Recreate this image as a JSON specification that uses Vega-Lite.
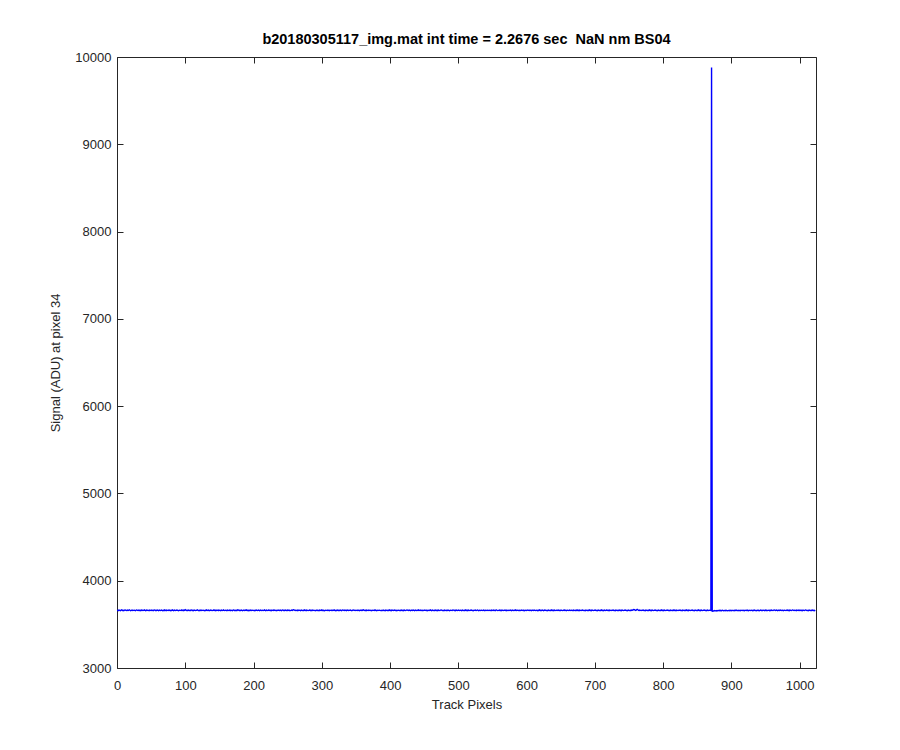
{
"$schema": "https://vega.github.io/schema/vega-lite/v6.json",
"width": 699, "height": 611,
"autosize": {"type": "none"},
"padding": {"left": 117, "top": 57, "right": 84, "bottom": 82},
"background": "white",
"title": {"text": "b20180305117_img.mat int time = 2.2676 sec\u00a0\u00a0NaN nm BS04", "font": "Liberation Sans", "fontSize": 14.5, "fontWeight": "bold", "color": "#000000", "offset": 4, "anchor": "middle"},
"config": {"view": {"stroke": null}, "axis": {"grid": false, "domainColor": "#262626", "tickColor": "#262626", "labelColor": "#262626", "titleColor": "#262626", "labelFont": "Liberation Sans", "titleFont": "Liberation Sans", "labelFontSize": 13, "titleFontSize": 13, "titleFontWeight": "normal", "tickSize": -6, "domainWidth": 1, "tickWidth": 1}},
"data": {"values": [
{"x":0,"y":3655},{"x":1,"y":3662},{"x":2,"y":3658},{"x":3,"y":3664},{"x":4,"y":3660},{"x":5,"y":3657},{"x":6,"y":3663},{"x":7,"y":3666},{"x":8,"y":3659},{"x":9,"y":3661},{"x":10,"y":3656},{"x":11,"y":3662},{"x":12,"y":3665},{"x":13,"y":3660},{"x":14,"y":3658},{"x":15,"y":3663},{"x":16,"y":3659},{"x":17,"y":3661},{"x":18,"y":3667},{"x":19,"y":3662},{"x":20,"y":3657},{"x":21,"y":3660},{"x":22,"y":3664},{"x":23,"y":3658},{"x":24,"y":3661},{"x":25,"y":3663},{"x":26,"y":3659},{"x":27,"y":3656},{"x":28,"y":3662},{"x":29,"y":3665},{"x":30,"y":3660},{"x":31,"y":3658},
{"x":32,"y":3663},{"x":33,"y":3659},{"x":34,"y":3661},{"x":35,"y":3657},{"x":36,"y":3664},{"x":37,"y":3662},{"x":38,"y":3658},{"x":39,"y":3660},{"x":40,"y":3666},{"x":41,"y":3661},{"x":42,"y":3657},{"x":43,"y":3663},{"x":44,"y":3659},{"x":45,"y":3662},{"x":46,"y":3660},{"x":47,"y":3656},{"x":48,"y":3664},{"x":49,"y":3661},{"x":50,"y":3658},{"x":51,"y":3663},{"x":52,"y":3660},{"x":53,"y":3657},{"x":54,"y":3662},{"x":55,"y":3665},{"x":56,"y":3659},{"x":57,"y":3661},{"x":58,"y":3658},{"x":59,"y":3664},{"x":60,"y":3660},{"x":61,"y":3657},{"x":62,"y":3663},{"x":63,"y":3661},
{"x":64,"y":3659},{"x":65,"y":3664},{"x":66,"y":3660},{"x":67,"y":3656},{"x":68,"y":3662},{"x":69,"y":3658},{"x":70,"y":3665},{"x":71,"y":3661},{"x":72,"y":3657},{"x":73,"y":3663},{"x":74,"y":3660},{"x":75,"y":3658},{"x":76,"y":3664},{"x":77,"y":3662},{"x":78,"y":3656},{"x":79,"y":3661},{"x":80,"y":3659},{"x":81,"y":3666},{"x":82,"y":3660},{"x":83,"y":3657},{"x":84,"y":3663},{"x":85,"y":3661},{"x":86,"y":3658},{"x":87,"y":3662},{"x":88,"y":3664},{"x":89,"y":3659},{"x":90,"y":3656},{"x":91,"y":3661},{"x":92,"y":3663},{"x":93,"y":3660},{"x":94,"y":3658},{"x":95,"y":3665},
{"x":96,"y":3661},{"x":97,"y":3657},{"x":98,"y":3663},{"x":99,"y":3660},{"x":100,"y":3668},{"x":101,"y":3664},{"x":102,"y":3659},{"x":103,"y":3661},{"x":104,"y":3658},{"x":105,"y":3663},{"x":106,"y":3660},{"x":107,"y":3656},{"x":108,"y":3662},{"x":109,"y":3665},{"x":110,"y":3659},{"x":111,"y":3661},{"x":112,"y":3657},{"x":113,"y":3664},{"x":114,"y":3660},{"x":115,"y":3658},{"x":116,"y":3663},{"x":117,"y":3661},{"x":118,"y":3666},{"x":119,"y":3659},{"x":120,"y":3657},{"x":121,"y":3662},{"x":122,"y":3660},{"x":123,"y":3664},{"x":124,"y":3658},{"x":125,"y":3661},{"x":126,"y":3663},{"x":127,"y":3659},
{"x":128,"y":3656},{"x":129,"y":3662},{"x":130,"y":3660},{"x":131,"y":3665},{"x":132,"y":3658},{"x":133,"y":3661},{"x":134,"y":3663},{"x":135,"y":3657},{"x":136,"y":3660},{"x":137,"y":3664},{"x":138,"y":3659},{"x":139,"y":3662},{"x":140,"y":3658},{"x":141,"y":3661},{"x":142,"y":3666},{"x":143,"y":3660},{"x":144,"y":3657},{"x":145,"y":3663},{"x":146,"y":3659},{"x":147,"y":3661},{"x":148,"y":3664},{"x":149,"y":3658},{"x":150,"y":3662},{"x":151,"y":3660},{"x":152,"y":3656},{"x":153,"y":3663},{"x":154,"y":3661},{"x":155,"y":3659},{"x":156,"y":3665},{"x":157,"y":3660},{"x":158,"y":3658},{"x":159,"y":3662},
{"x":160,"y":3660},{"x":161,"y":3657},{"x":162,"y":3663},{"x":163,"y":3661},{"x":164,"y":3659},{"x":165,"y":3664},{"x":166,"y":3658},{"x":167,"y":3662},{"x":168,"y":3660},{"x":169,"y":3656},{"x":170,"y":3663},{"x":171,"y":3665},{"x":172,"y":3659},{"x":173,"y":3661},{"x":174,"y":3658},{"x":175,"y":3662},{"x":176,"y":3660},{"x":177,"y":3667},{"x":178,"y":3663},{"x":179,"y":3658},{"x":180,"y":3661},{"x":181,"y":3659},{"x":182,"y":3664},{"x":183,"y":3660},{"x":184,"y":3657},{"x":185,"y":3662},{"x":186,"y":3661},{"x":187,"y":3658},{"x":188,"y":3663},{"x":189,"y":3660},{"x":190,"y":3665},{"x":191,"y":3659},
{"x":192,"y":3661},{"x":193,"y":3657},{"x":194,"y":3662},{"x":195,"y":3660},{"x":196,"y":3664},{"x":197,"y":3658},{"x":198,"y":3661},{"x":199,"y":3663},{"x":200,"y":3659},{"x":201,"y":3656},{"x":202,"y":3662},{"x":203,"y":3660},{"x":204,"y":3665},{"x":205,"y":3661},{"x":206,"y":3658},{"x":207,"y":3663},{"x":208,"y":3660},{"x":209,"y":3657},{"x":210,"y":3664},{"x":211,"y":3661},{"x":212,"y":3659},{"x":213,"y":3662},{"x":214,"y":3658},{"x":215,"y":3660},{"x":216,"y":3666},{"x":217,"y":3661},{"x":218,"y":3657},{"x":219,"y":3663},{"x":220,"y":3660},{"x":221,"y":3658},{"x":222,"y":3664},{"x":223,"y":3662},
{"x":224,"y":3659},{"x":225,"y":3661},{"x":226,"y":3656},{"x":227,"y":3663},{"x":228,"y":3660},{"x":229,"y":3658},{"x":230,"y":3665},{"x":231,"y":3661},{"x":232,"y":3659},{"x":233,"y":3662},{"x":234,"y":3657},{"x":235,"y":3660},{"x":236,"y":3664},{"x":237,"y":3661},{"x":238,"y":3658},{"x":239,"y":3663},{"x":240,"y":3660},{"x":241,"y":3656},{"x":242,"y":3662},{"x":243,"y":3665},{"x":244,"y":3659},{"x":245,"y":3661},{"x":246,"y":3658},{"x":247,"y":3663},{"x":248,"y":3660},{"x":249,"y":3657},{"x":250,"y":3664},{"x":251,"y":3662},{"x":252,"y":3659},{"x":253,"y":3661},{"x":254,"y":3658},{"x":255,"y":3660},
{"x":256,"y":3663},{"x":257,"y":3659},{"x":258,"y":3665},{"x":259,"y":3668},{"x":260,"y":3662},{"x":261,"y":3658},{"x":262,"y":3661},{"x":263,"y":3660},{"x":264,"y":3657},{"x":265,"y":3663},{"x":266,"y":3659},{"x":267,"y":3662},{"x":268,"y":3660},{"x":269,"y":3656},{"x":270,"y":3664},{"x":271,"y":3661},{"x":272,"y":3658},{"x":273,"y":3662},{"x":274,"y":3660},{"x":275,"y":3665},{"x":276,"y":3659},{"x":277,"y":3657},{"x":278,"y":3663},{"x":279,"y":3661},{"x":280,"y":3658},{"x":281,"y":3660},{"x":282,"y":3664},{"x":283,"y":3662},{"x":284,"y":3657},{"x":285,"y":3661},{"x":286,"y":3659},{"x":287,"y":3663},
{"x":288,"y":3660},{"x":289,"y":3658},{"x":290,"y":3662},{"x":291,"y":3656},{"x":292,"y":3661},{"x":293,"y":3664},{"x":294,"y":3659},{"x":295,"y":3660},{"x":296,"y":3657},{"x":297,"y":3663},{"x":298,"y":3661},{"x":299,"y":3658},{"x":300,"y":3665},{"x":301,"y":3660},{"x":302,"y":3662},{"x":303,"y":3659},{"x":304,"y":3656},{"x":305,"y":3661},{"x":306,"y":3663},{"x":307,"y":3660},{"x":308,"y":3658},{"x":309,"y":3664},{"x":310,"y":3661},{"x":311,"y":3657},{"x":312,"y":3662},{"x":313,"y":3660},{"x":314,"y":3659},{"x":315,"y":3663},{"x":316,"y":3658},{"x":317,"y":3661},{"x":318,"y":3666},{"x":319,"y":3660},
{"x":320,"y":3657},{"x":321,"y":3662},{"x":322,"y":3660},{"x":323,"y":3664},{"x":324,"y":3659},{"x":325,"y":3661},{"x":326,"y":3658},{"x":327,"y":3663},{"x":328,"y":3660},{"x":329,"y":3656},{"x":330,"y":3662},{"x":331,"y":3665},{"x":332,"y":3661},{"x":333,"y":3659},{"x":334,"y":3663},{"x":335,"y":3660},{"x":336,"y":3657},{"x":337,"y":3664},{"x":338,"y":3662},{"x":339,"y":3658},{"x":340,"y":3661},{"x":341,"y":3660},{"x":342,"y":3663},{"x":343,"y":3659},{"x":344,"y":3656},{"x":345,"y":3662},{"x":346,"y":3661},{"x":347,"y":3665},{"x":348,"y":3660},{"x":349,"y":3658},{"x":350,"y":3663},{"x":351,"y":3661},
{"x":352,"y":3659},{"x":353,"y":3664},{"x":354,"y":3660},{"x":355,"y":3657},{"x":356,"y":3662},{"x":357,"y":3661},{"x":358,"y":3658},{"x":359,"y":3663},{"x":360,"y":3660},{"x":361,"y":3666},{"x":362,"y":3662},{"x":363,"y":3659},{"x":364,"y":3661},{"x":365,"y":3657},{"x":366,"y":3663},{"x":367,"y":3660},{"x":368,"y":3658},{"x":369,"y":3664},{"x":370,"y":3661},{"x":371,"y":3659},{"x":372,"y":3662},{"x":373,"y":3656},{"x":374,"y":3660},{"x":375,"y":3663},{"x":376,"y":3661},{"x":377,"y":3658},{"x":378,"y":3665},{"x":379,"y":3660},{"x":380,"y":3657},{"x":381,"y":3662},{"x":382,"y":3659},{"x":383,"y":3661},
{"x":384,"y":3663},{"x":385,"y":3660},{"x":386,"y":3658},{"x":387,"y":3662},{"x":388,"y":3656},{"x":389,"y":3661},{"x":390,"y":3664},{"x":391,"y":3659},{"x":392,"y":3660},{"x":393,"y":3657},{"x":394,"y":3663},{"x":395,"y":3661},{"x":396,"y":3658},{"x":397,"y":3662},{"x":398,"y":3660},{"x":399,"y":3665},{"x":400,"y":3659},{"x":401,"y":3661},{"x":402,"y":3657},{"x":403,"y":3663},{"x":404,"y":3660},{"x":405,"y":3658},{"x":406,"y":3664},{"x":407,"y":3662},{"x":408,"y":3659},{"x":409,"y":3661},{"x":410,"y":3656},{"x":411,"y":3660},{"x":412,"y":3663},{"x":413,"y":3661},{"x":414,"y":3658},{"x":415,"y":3662},
{"x":416,"y":3660},{"x":417,"y":3664},{"x":418,"y":3659},{"x":419,"y":3661},{"x":420,"y":3657},{"x":421,"y":3663},{"x":422,"y":3660},{"x":423,"y":3658},{"x":424,"y":3662},{"x":425,"y":3665},{"x":426,"y":3661},{"x":427,"y":3659},{"x":428,"y":3663},{"x":429,"y":3660},{"x":430,"y":3656},{"x":431,"y":3662},{"x":432,"y":3661},{"x":433,"y":3658},{"x":434,"y":3664},{"x":435,"y":3660},{"x":436,"y":3657},{"x":437,"y":3663},{"x":438,"y":3661},{"x":439,"y":3659},{"x":440,"y":3662},{"x":441,"y":3660},{"x":442,"y":3666},{"x":443,"y":3661},{"x":444,"y":3658},{"x":445,"y":3663},{"x":446,"y":3660},{"x":447,"y":3657},
{"x":448,"y":3662},{"x":449,"y":3659},{"x":450,"y":3661},{"x":451,"y":3664},{"x":452,"y":3660},{"x":453,"y":3658},{"x":454,"y":3663},{"x":455,"y":3656},{"x":456,"y":3661},{"x":457,"y":3662},{"x":458,"y":3659},{"x":459,"y":3665},{"x":460,"y":3660},{"x":461,"y":3657},{"x":462,"y":3663},{"x":463,"y":3661},{"x":464,"y":3658},{"x":465,"y":3662},{"x":466,"y":3660},{"x":467,"y":3664},{"x":468,"y":3659},{"x":469,"y":3661},{"x":470,"y":3657},{"x":471,"y":3663},{"x":472,"y":3660},{"x":473,"y":3658},{"x":474,"y":3662},{"x":475,"y":3665},{"x":476,"y":3661},{"x":477,"y":3659},{"x":478,"y":3660},{"x":479,"y":3657},
{"x":480,"y":3663},{"x":481,"y":3661},{"x":482,"y":3658},{"x":483,"y":3662},{"x":484,"y":3660},{"x":485,"y":3664},{"x":486,"y":3659},{"x":487,"y":3656},{"x":488,"y":3661},{"x":489,"y":3663},{"x":490,"y":3660},{"x":491,"y":3658},{"x":492,"y":3665},{"x":493,"y":3662},{"x":494,"y":3659},{"x":495,"y":3661},{"x":496,"y":3657},{"x":497,"y":3663},{"x":498,"y":3660},{"x":499,"y":3658},{"x":500,"y":3664},{"x":501,"y":3661},{"x":502,"y":3659},{"x":503,"y":3662},{"x":504,"y":3660},{"x":505,"y":3656},{"x":506,"y":3663},{"x":507,"y":3661},{"x":508,"y":3658},{"x":509,"y":3662},{"x":510,"y":3660},{"x":511,"y":3665},
{"x":512,"y":3659},{"x":513,"y":3661},{"x":514,"y":3657},{"x":515,"y":3663},{"x":516,"y":3660},{"x":517,"y":3658},{"x":518,"y":3662},{"x":519,"y":3664},{"x":520,"y":3661},{"x":521,"y":3659},{"x":522,"y":3656},{"x":523,"y":3662},{"x":524,"y":3660},{"x":525,"y":3663},{"x":526,"y":3658},{"x":527,"y":3661},{"x":528,"y":3665},{"x":529,"y":3660},{"x":530,"y":3657},{"x":531,"y":3662},{"x":532,"y":3659},{"x":533,"y":3661},{"x":534,"y":3663},{"x":535,"y":3660},{"x":536,"y":3658},{"x":537,"y":3664},{"x":538,"y":3661},{"x":539,"y":3657},{"x":540,"y":3662},{"x":541,"y":3660},{"x":542,"y":3659},{"x":543,"y":3663},
{"x":544,"y":3661},{"x":545,"y":3658},{"x":546,"y":3662},{"x":547,"y":3660},{"x":548,"y":3656},{"x":549,"y":3664},{"x":550,"y":3661},{"x":551,"y":3659},{"x":552,"y":3663},{"x":553,"y":3660},{"x":554,"y":3657},{"x":555,"y":3662},{"x":556,"y":3665},{"x":557,"y":3661},{"x":558,"y":3658},{"x":559,"y":3660},{"x":560,"y":3663},{"x":561,"y":3659},{"x":562,"y":3661},{"x":563,"y":3657},{"x":564,"y":3664},{"x":565,"y":3660},{"x":566,"y":3658},{"x":567,"y":3662},{"x":568,"y":3661},{"x":569,"y":3659},{"x":570,"y":3663},{"x":571,"y":3656},{"x":572,"y":3660},{"x":573,"y":3662},{"x":574,"y":3658},{"x":575,"y":3661},
{"x":576,"y":3664},{"x":577,"y":3660},{"x":578,"y":3657},{"x":579,"y":3663},{"x":580,"y":3661},{"x":581,"y":3659},{"x":582,"y":3662},{"x":583,"y":3660},{"x":584,"y":3665},{"x":585,"y":3658},{"x":586,"y":3661},{"x":587,"y":3663},{"x":588,"y":3660},{"x":589,"y":3657},{"x":590,"y":3662},{"x":591,"y":3659},{"x":592,"y":3661},{"x":593,"y":3664},{"x":594,"y":3660},{"x":595,"y":3658},{"x":596,"y":3663},{"x":597,"y":3656},{"x":598,"y":3661},{"x":599,"y":3662},{"x":600,"y":3659},{"x":601,"y":3660},{"x":602,"y":3665},{"x":603,"y":3661},{"x":604,"y":3658},{"x":605,"y":3663},{"x":606,"y":3660},{"x":607,"y":3657},
{"x":608,"y":3662},{"x":609,"y":3661},{"x":610,"y":3659},{"x":611,"y":3664},{"x":612,"y":3660},{"x":613,"y":3658},{"x":614,"y":3663},{"x":615,"y":3661},{"x":616,"y":3657},{"x":617,"y":3662},{"x":618,"y":3660},{"x":619,"y":3665},{"x":620,"y":3659},{"x":621,"y":3661},{"x":622,"y":3658},{"x":623,"y":3663},{"x":624,"y":3660},{"x":625,"y":3656},{"x":626,"y":3662},{"x":627,"y":3664},{"x":628,"y":3661},{"x":629,"y":3659},{"x":630,"y":3660},{"x":631,"y":3657},{"x":632,"y":3663},{"x":633,"y":3661},{"x":634,"y":3658},{"x":635,"y":3662},{"x":636,"y":3660},{"x":637,"y":3665},{"x":638,"y":3659},{"x":639,"y":3661},
{"x":640,"y":3657},{"x":641,"y":3663},{"x":642,"y":3660},{"x":643,"y":3658},{"x":644,"y":3662},{"x":645,"y":3661},{"x":646,"y":3659},{"x":647,"y":3664},{"x":648,"y":3660},{"x":649,"y":3656},{"x":650,"y":3662},{"x":651,"y":3663},{"x":652,"y":3661},{"x":653,"y":3658},{"x":654,"y":3660},{"x":655,"y":3665},{"x":656,"y":3659},{"x":657,"y":3662},{"x":658,"y":3657},{"x":659,"y":3661},{"x":660,"y":3663},{"x":661,"y":3660},{"x":662,"y":3658},{"x":663,"y":3664},{"x":664,"y":3661},{"x":665,"y":3659},{"x":666,"y":3662},{"x":667,"y":3660},{"x":668,"y":3657},{"x":669,"y":3663},{"x":670,"y":3661},{"x":671,"y":3658},
{"x":672,"y":3662},{"x":673,"y":3660},{"x":674,"y":3665},{"x":675,"y":3659},{"x":676,"y":3661},{"x":677,"y":3657},{"x":678,"y":3663},{"x":679,"y":3660},{"x":680,"y":3658},{"x":681,"y":3662},{"x":682,"y":3664},{"x":683,"y":3661},{"x":684,"y":3659},{"x":685,"y":3660},{"x":686,"y":3656},{"x":687,"y":3663},{"x":688,"y":3661},{"x":689,"y":3658},{"x":690,"y":3662},{"x":691,"y":3660},{"x":692,"y":3665},{"x":693,"y":3659},{"x":694,"y":3661},{"x":695,"y":3657},{"x":696,"y":3663},{"x":697,"y":3660},{"x":698,"y":3658},{"x":699,"y":3662},{"x":700,"y":3661},{"x":701,"y":3664},{"x":702,"y":3659},{"x":703,"y":3660},
{"x":704,"y":3657},{"x":705,"y":3663},{"x":706,"y":3661},{"x":707,"y":3658},{"x":708,"y":3662},{"x":709,"y":3660},{"x":710,"y":3665},{"x":711,"y":3659},{"x":712,"y":3661},{"x":713,"y":3656},{"x":714,"y":3663},{"x":715,"y":3660},{"x":716,"y":3658},{"x":717,"y":3664},{"x":718,"y":3662},{"x":719,"y":3659},{"x":720,"y":3661},{"x":721,"y":3657},{"x":722,"y":3663},{"x":723,"y":3660},{"x":724,"y":3658},{"x":725,"y":3662},{"x":726,"y":3661},{"x":727,"y":3665},{"x":728,"y":3659},{"x":729,"y":3660},{"x":730,"y":3657},{"x":731,"y":3663},{"x":732,"y":3661},{"x":733,"y":3658},{"x":734,"y":3662},{"x":735,"y":3660},
{"x":736,"y":3664},{"x":737,"y":3659},{"x":738,"y":3661},{"x":739,"y":3657},{"x":740,"y":3663},{"x":741,"y":3660},{"x":742,"y":3658},{"x":743,"y":3662},{"x":744,"y":3661},{"x":745,"y":3665},{"x":746,"y":3659},{"x":747,"y":3660},{"x":748,"y":3656},{"x":749,"y":3663},{"x":750,"y":3661},{"x":751,"y":3658},{"x":752,"y":3662},{"x":753,"y":3660},{"x":754,"y":3664},{"x":755,"y":3661},{"x":756,"y":3666},{"x":757,"y":3670},{"x":758,"y":3668},{"x":759,"y":3663},{"x":760,"y":3660},{"x":761,"y":3665},{"x":762,"y":3672},{"x":763,"y":3667},{"x":764,"y":3661},{"x":765,"y":3659},{"x":766,"y":3663},{"x":767,"y":3660},
{"x":768,"y":3658},{"x":769,"y":3662},{"x":770,"y":3661},{"x":771,"y":3664},{"x":772,"y":3659},{"x":773,"y":3660},{"x":774,"y":3657},{"x":775,"y":3663},{"x":776,"y":3661},{"x":777,"y":3658},{"x":778,"y":3662},{"x":779,"y":3660},{"x":780,"y":3665},{"x":781,"y":3659},{"x":782,"y":3661},{"x":783,"y":3657},{"x":784,"y":3663},{"x":785,"y":3660},{"x":786,"y":3658},{"x":787,"y":3662},{"x":788,"y":3661},{"x":789,"y":3664},{"x":790,"y":3659},{"x":791,"y":3660},{"x":792,"y":3656},{"x":793,"y":3663},{"x":794,"y":3661},{"x":795,"y":3658},{"x":796,"y":3662},{"x":797,"y":3660},{"x":798,"y":3665},{"x":799,"y":3659},
{"x":800,"y":3661},{"x":801,"y":3657},{"x":802,"y":3663},{"x":803,"y":3660},{"x":804,"y":3658},{"x":805,"y":3662},{"x":806,"y":3661},{"x":807,"y":3664},{"x":808,"y":3659},{"x":809,"y":3660},{"x":810,"y":3657},{"x":811,"y":3663},{"x":812,"y":3661},{"x":813,"y":3658},{"x":814,"y":3662},{"x":815,"y":3660},{"x":816,"y":3665},{"x":817,"y":3659},{"x":818,"y":3661},{"x":819,"y":3656},{"x":820,"y":3663},{"x":821,"y":3660},{"x":822,"y":3658},{"x":823,"y":3662},{"x":824,"y":3661},{"x":825,"y":3664},{"x":826,"y":3659},{"x":827,"y":3660},{"x":828,"y":3657},{"x":829,"y":3663},{"x":830,"y":3661},{"x":831,"y":3658},
{"x":832,"y":3662},{"x":833,"y":3660},{"x":834,"y":3665},{"x":835,"y":3659},{"x":836,"y":3661},{"x":837,"y":3657},{"x":838,"y":3663},{"x":839,"y":3660},{"x":840,"y":3658},{"x":841,"y":3662},{"x":842,"y":3661},{"x":843,"y":3664},{"x":844,"y":3659},{"x":845,"y":3660},{"x":846,"y":3656},{"x":847,"y":3663},{"x":848,"y":3661},{"x":849,"y":3658},{"x":850,"y":3662},{"x":851,"y":3660},{"x":852,"y":3665},{"x":853,"y":3659},{"x":854,"y":3661},{"x":855,"y":3657},{"x":856,"y":3663},{"x":857,"y":3660},{"x":858,"y":3658},{"x":859,"y":3662},{"x":860,"y":3661},{"x":861,"y":3664},{"x":862,"y":3659},{"x":863,"y":3660},
{"x":864,"y":3657},{"x":865,"y":3663},{"x":866,"y":3661},{"x":867,"y":3658},{"x":868,"y":3662},{"x":869,"y":3660},{"x":870,"y":3659},{"x":871,"y":9880},{"x":872,"y":3652},{"x":873,"y":3650},{"x":874,"y":3654},{"x":875,"y":3658},{"x":876,"y":3655},{"x":877,"y":3657},{"x":878,"y":3653},{"x":879,"y":3659},{"x":880,"y":3656},{"x":881,"y":3658},{"x":882,"y":3661},{"x":883,"y":3657},{"x":884,"y":3660},{"x":885,"y":3655},{"x":886,"y":3659},{"x":887,"y":3662},{"x":888,"y":3658},{"x":889,"y":3656},{"x":890,"y":3660},{"x":891,"y":3657},{"x":892,"y":3661},{"x":893,"y":3659},{"x":894,"y":3655},{"x":895,"y":3658},
{"x":896,"y":3660},{"x":897,"y":3657},{"x":898,"y":3661},{"x":899,"y":3659},{"x":900,"y":3656},{"x":901,"y":3662},{"x":902,"y":3658},{"x":903,"y":3660},{"x":904,"y":3657},{"x":905,"y":3661},{"x":906,"y":3659},{"x":907,"y":3663},{"x":908,"y":3658},{"x":909,"y":3660},{"x":910,"y":3656},{"x":911,"y":3662},{"x":912,"y":3659},{"x":913,"y":3657},{"x":914,"y":3661},{"x":915,"y":3660},{"x":916,"y":3658},{"x":917,"y":3662},{"x":918,"y":3659},{"x":919,"y":3656},{"x":920,"y":3661},{"x":921,"y":3660},{"x":922,"y":3658},{"x":923,"y":3663},{"x":924,"y":3659},{"x":925,"y":3657},{"x":926,"y":3661},{"x":927,"y":3660},
{"x":928,"y":3658},{"x":929,"y":3662},{"x":930,"y":3660},{"x":931,"y":3657},{"x":932,"y":3661},{"x":933,"y":3659},{"x":934,"y":3663},{"x":935,"y":3658},{"x":936,"y":3660},{"x":937,"y":3656},{"x":938,"y":3662},{"x":939,"y":3659},{"x":940,"y":3661},{"x":941,"y":3657},{"x":942,"y":3660},{"x":943,"y":3664},{"x":944,"y":3659},{"x":945,"y":3661},{"x":946,"y":3658},{"x":947,"y":3662},{"x":948,"y":3660},{"x":949,"y":3657},{"x":950,"y":3663},{"x":951,"y":3659},{"x":952,"y":3661},{"x":953,"y":3658},{"x":954,"y":3660},{"x":955,"y":3662},{"x":956,"y":3657},{"x":957,"y":3661},{"x":958,"y":3659},{"x":959,"y":3663},
{"x":960,"y":3660},{"x":961,"y":3658},{"x":962,"y":3662},{"x":963,"y":3665},{"x":964,"y":3661},{"x":965,"y":3659},{"x":966,"y":3663},{"x":967,"y":3660},{"x":968,"y":3657},{"x":969,"y":3662},{"x":970,"y":3661},{"x":971,"y":3658},{"x":972,"y":3664},{"x":973,"y":3660},{"x":974,"y":3659},{"x":975,"y":3662},{"x":976,"y":3657},{"x":977,"y":3661},{"x":978,"y":3663},{"x":979,"y":3660},{"x":980,"y":3658},{"x":981,"y":3662},{"x":982,"y":3664},{"x":983,"y":3659},{"x":984,"y":3661},{"x":985,"y":3657},{"x":986,"y":3663},{"x":987,"y":3660},{"x":988,"y":3658},{"x":989,"y":3662},{"x":990,"y":3665},{"x":991,"y":3661},
{"x":992,"y":3659},{"x":993,"y":3662},{"x":994,"y":3660},{"x":995,"y":3657},{"x":996,"y":3663},{"x":997,"y":3661},{"x":998,"y":3658},{"x":999,"y":3664},{"x":1000,"y":3660},{"x":1001,"y":3662},{"x":1002,"y":3659},{"x":1003,"y":3661},{"x":1004,"y":3656},{"x":1005,"y":3663},{"x":1006,"y":3660},{"x":1007,"y":3658},{"x":1008,"y":3662},{"x":1009,"y":3665},{"x":1010,"y":3661},{"x":1011,"y":3659},{"x":1012,"y":3660},{"x":1013,"y":3657},{"x":1014,"y":3663},{"x":1015,"y":3661},{"x":1016,"y":3658},{"x":1017,"y":3662},{"x":1018,"y":3660},{"x":1019,"y":3664},{"x":1020,"y":3659},{"x":1021,"y":3661},{"x":1022,"y":3657},{"x":1023,"y":3662}
]},
"layer": [
{"mark": {"type": "line", "color": "#0000ff", "strokeWidth": 1.4, "clip": true},
 "encoding": {
  "x": {"field": "x", "type": "quantitative", "scale": {"domain": [0, 1024], "nice": false, "zero": false},
        "axis": {"orient": "bottom", "values": [0,100,200,300,400,500,600,700,800,900,1000], "title": "Track Pixels", "labelPadding": 17, "titlePadding": 6, "labelFlush": false, "format": "d"}},
  "y": {"field": "y", "type": "quantitative", "scale": {"domain": [3000, 10000], "nice": false, "zero": false},
        "axis": {"orient": "left", "values": [3000,4000,5000,6000,7000,8000,9000,10000], "title": "Signal (ADU) at pixel 34", "labelPadding": 12, "titlePadding": 12, "format": "d"}}
 }},
{"mark": {"type": "line", "color": "#0000ff", "strokeWidth": 1, "opacity": 0},
 "encoding": {
  "x": {"field": "x", "type": "quantitative", "axis": {"orient": "top", "values": [0,100,200,300,400,500,600,700,800,900,1000], "labels": false, "title": null}},
  "y": {"field": "y", "type": "quantitative", "axis": {"orient": "right", "values": [3000,4000,5000,6000,7000,8000,9000,10000], "labels": false, "title": null}}
 }}
],
"resolve": {"axis": {"x": "independent", "y": "independent"}}
}
